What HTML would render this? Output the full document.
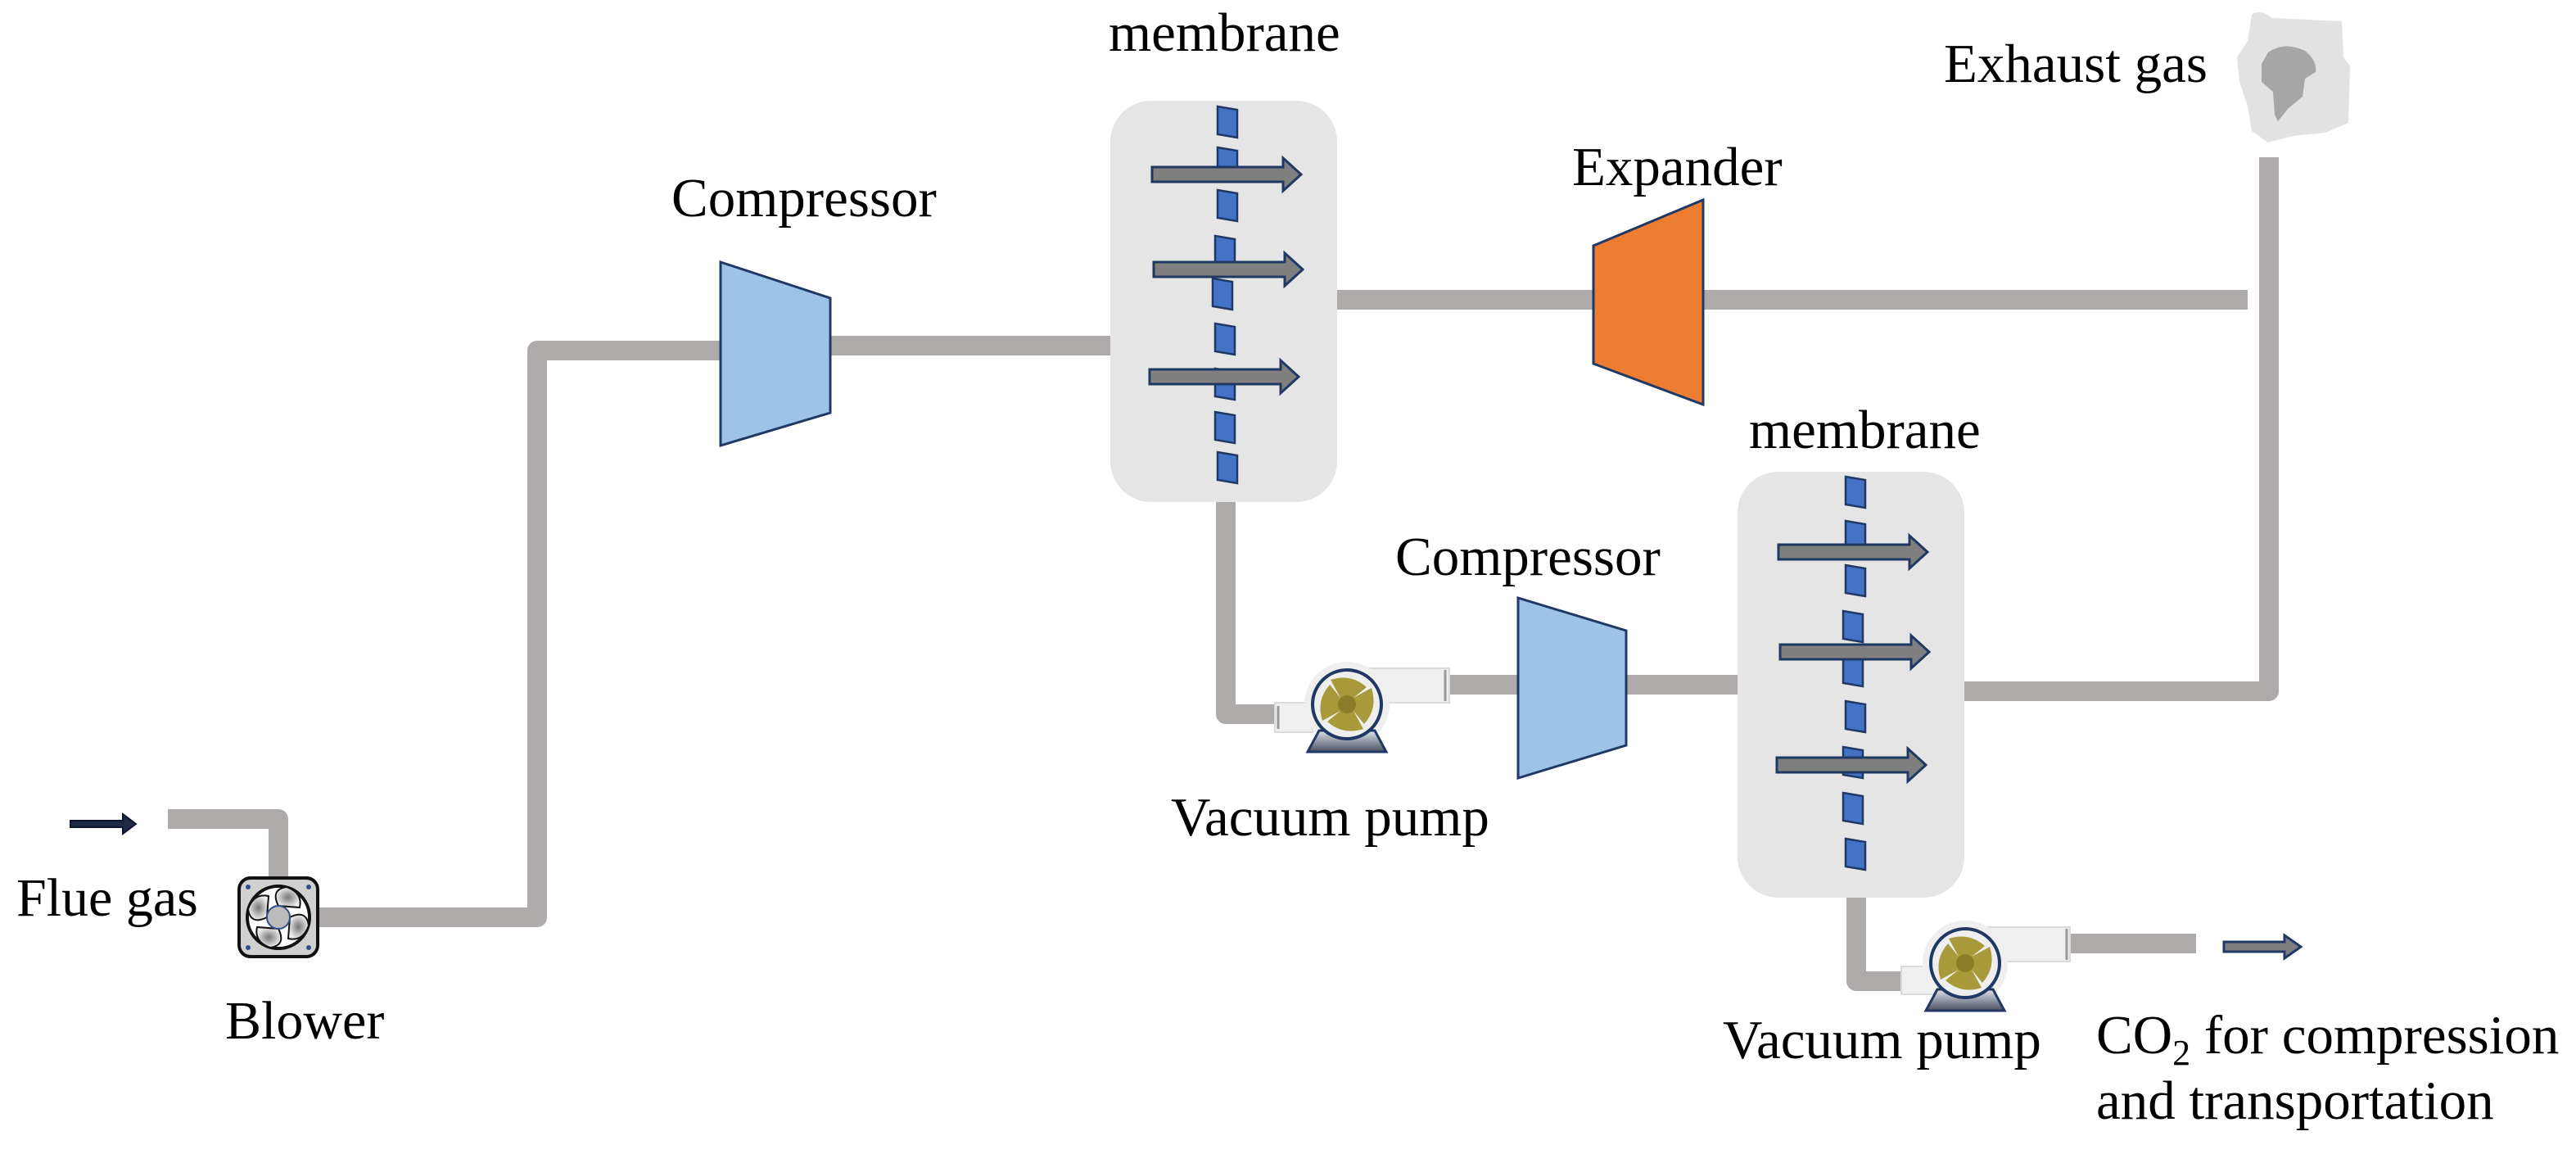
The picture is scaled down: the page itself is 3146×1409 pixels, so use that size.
<!DOCTYPE html>
<html><head><meta charset="utf-8"><style>
html,body{margin:0;padding:0;background:#fff;}
svg{display:block;}
text{font-family:"Liberation Serif",serif;fill:#000;}
</style></head><body>
<svg width="3146" height="1409" viewBox="0 0 3146 1409" xmlns="http://www.w3.org/2000/svg">
<defs>
<g id="dashes">
<path d="M-12,0 L12,4 L12,38 L-12,34 Z"/>
</g>
<g id="arr">
<path d="M0,-9 L160,-9 L160,-20 L182,0 L160,20 L160,9 L0,9 Z" fill="#7f7f7f" stroke="#203864" stroke-width="3"/>
</g>
<radialGradient id="fan" cx="50%" cy="50%" r="50%"><stop offset="0" stop-color="#777"/><stop offset="1" stop-color="#eee"/></radialGradient>
<linearGradient id="base" x1="0" y1="0" x2="0" y2="1"><stop offset="0" stop-color="#dde2ea"/><stop offset="1" stop-color="#4a5160"/></linearGradient>
<g id="pump">
<circle cx="0" cy="0" r="52" fill="#efefef"/>
<path d="M-34,32 L-48,58 L48,58 L34,32 Z" fill="url(#base)" stroke="#1f3864" stroke-width="3"/>
<circle cx="0" cy="0" r="42" fill="#eeeeee" stroke="#1f3864" stroke-width="4"/>
<g fill="#a89a3a">
<path d="M-8,-8 L-20,-30 Q5,-38 24,-21 L8,-8 Z"/>
<path d="M8,-8 L30,-20 Q38,5 21,24 L8,8 Z"/>
<path d="M8,8 L20,30 Q-5,38 -24,21 L-8,8 Z"/>
<path d="M-8,8 L-30,20 Q-38,-5 -21,-24 L-8,-8 Z"/>
</g>
<circle cx="0" cy="0" r="11" fill="#8a7d2a"/>
</g>
</defs>

<!-- pipes -->
<g fill="none" stroke="#aeaaaa" stroke-width="24" stroke-linejoin="round">
<path d="M205,1000 L340,1000 L340,1085"/>
<path d="M385,1120 L656,1120 L656,428 L880,428"/>
<path d="M1014,422 L1356,422"/>
<path d="M1633,366 L1950,366"/>
<path d="M2080,366 L2745,366"/>
<path d="M2771,192 L2771,844 L2398,844"/>
<path d="M1497,612 L1497,872 L1560,872"/>
<path d="M1770,836 L1856,836"/>
<path d="M1986,836 L2122,836"/>
<path d="M2267,1096 L2267,1198 L2330,1198"/>
<path d="M2528,1152 L2682,1152"/>
</g>

<!-- flue arrow -->
<path d="M86,1002 L150,1002 L150,994 L166,1006 L150,1018 L150,1010 L86,1010 Z" fill="#1f2a44" stroke="#0b1530" stroke-width="2"/>
<text x="20" y="1118" font-size="66">Flue gas</text>

<!-- blower -->
<g transform="translate(340,1120)">
<rect x="-48" y="-48" width="96" height="96" rx="14" fill="#d0d0d0" stroke="#111" stroke-width="4"/>
<circle cx="-37" cy="-37" r="3" fill="#2f4f8f"/><circle cx="37" cy="-37" r="3" fill="#2f4f8f"/>
<circle cx="-37" cy="37" r="3" fill="#2f4f8f"/><circle cx="37" cy="37" r="3" fill="#2f4f8f"/>
<circle cx="0" cy="0" r="38" fill="#fff" stroke="#111" stroke-width="4"/>
<g fill="url(#fan)" stroke="#111" stroke-width="2">
<path d="M0,-14 Q-10,-34 10,-37 Q30,-30 26,-12 Z"/>
<path d="M14,0 Q34,-10 37,10 Q30,30 12,26 Z"/>
<path d="M0,14 Q10,34 -10,37 Q-30,30 -26,12 Z"/>
<path d="M-14,0 Q-34,10 -37,-10 Q-30,-30 -12,-26 Z"/>
</g>
<circle cx="0" cy="0" r="14" fill="#bbb" stroke="#2f4f8f" stroke-width="2"/>
</g>
<text x="275" y="1268" font-size="66">Blower</text>

<!-- compressor 1 -->
<path d="M880,320 L1014,364 L1014,504 L880,544 Z" fill="#9dc3e6" stroke="#203864" stroke-width="3"/>
<text x="820" y="264" font-size="67">Compressor</text>

<!-- membrane 1 -->
<rect x="1356" y="123" width="277" height="490" rx="50" fill="#e5e5e5"/>
<g fill="#4472c4" stroke="#1f3864" stroke-width="2.5">
<use href="#dashes" x="1499" y="130"/><use href="#dashes" x="1499" y="180"/><use href="#dashes" x="1499" y="232"/>
<use href="#dashes" x="1496" y="288"/><use href="#dashes" x="1493" y="340"/><use href="#dashes" x="1496" y="395"/>
<use href="#dashes" x="1496" y="450"/><use href="#dashes" x="1496" y="503"/><use href="#dashes" x="1499" y="552"/>
</g>
<use href="#arr" x="1407" y="213"/><use href="#arr" x="1409" y="329"/><use href="#arr" x="1404" y="460"/>
<text x="1354" y="62" font-size="67">membrane</text>

<!-- expander -->
<path d="M1946,300 L2080,244 L2080,494 L1946,444 Z" fill="#ed7d31" stroke="#203864" stroke-width="3"/>
<text x="1920" y="226" font-size="67">Expander</text>

<!-- exhaust -->
<path d="M2750,18 Q2760,10 2775,22 L2860,26 L2862,70 L2870,80 L2868,150 L2840,162 L2800,166 L2770,174 L2750,160 L2745,130 L2735,100 L2732,70 L2745,50 Z" fill="#e2e2e2"/>
<path d="M2770,64 Q2790,50 2815,62 Q2830,74 2828,88 L2815,96 L2812,118 L2795,132 L2782,148 L2778,140 L2776,112 L2762,100 L2762,78 Z" fill="#a6a6a6"/>
<text x="2374" y="100" font-size="67">Exhaust gas</text>

<!-- vacuum pump 1 -->
<rect x="1557" y="858" width="46" height="36" fill="#efefef" stroke="#dadada" stroke-width="2"/>
<line x1="1561" y1="862" x2="1561" y2="890" stroke="#999" stroke-width="3"/>
<rect x="1670" y="816" width="100" height="42" fill="#efefef" stroke="#dadada" stroke-width="2"/>
<line x1="1765" y1="818" x2="1765" y2="856" stroke="#999" stroke-width="3"/>
<use href="#pump" x="1645" y="860"/>
<text x="1430" y="1020" font-size="67">Vacuum pump</text>

<!-- compressor 2 -->
<path d="M1854,730 L1986,770 L1986,910 L1854,950 Z" fill="#9dc3e6" stroke="#203864" stroke-width="3"/>
<text x="1704" y="702" font-size="67">Compressor</text>

<!-- membrane 2 -->
<rect x="2122" y="576" width="277" height="520" rx="50" fill="#e5e5e5"/>
<g fill="#4472c4" stroke="#1f3864" stroke-width="2.5">
<use href="#dashes" x="2266" y="582"/><use href="#dashes" x="2266" y="636"/><use href="#dashes" x="2266" y="690"/>
<use href="#dashes" x="2263" y="746"/><use href="#dashes" x="2263" y="800"/><use href="#dashes" x="2266" y="856"/>
<use href="#dashes" x="2263" y="912"/><use href="#dashes" x="2263" y="968"/><use href="#dashes" x="2266" y="1024"/>
</g>
<use href="#arr" x="2172" y="674"/><use href="#arr" x="2174" y="796"/><use href="#arr" x="2170" y="934"/>
<text x="2136" y="547" font-size="67">membrane</text>

<!-- vacuum pump 2 -->
<rect x="2322" y="1180" width="40" height="34" fill="#efefef" stroke="#dadada" stroke-width="2"/>
<rect x="2425" y="1132" width="103" height="42" fill="#efefef" stroke="#dadada" stroke-width="2"/>
<line x1="2524" y1="1134" x2="2524" y2="1172" stroke="#999" stroke-width="3"/>
<use href="#pump" x="2400" y="1176"/>
<text x="2104" y="1292" font-size="67">Vacuum pump</text>

<!-- CO2 arrow -->
<path d="M2716,1150 L2790,1150 L2790,1142 L2810,1156 L2790,1170 L2790,1162 L2716,1162 Z" fill="#7f7f7f" stroke="#203864" stroke-width="3"/>
<text x="2560" y="1286" font-size="67">CO<tspan font-size="44" dy="14">2</tspan><tspan dy="-14"> for compression</tspan></text>
<text x="2560" y="1366" font-size="67">and transportation</text>
</svg>
</body></html>
